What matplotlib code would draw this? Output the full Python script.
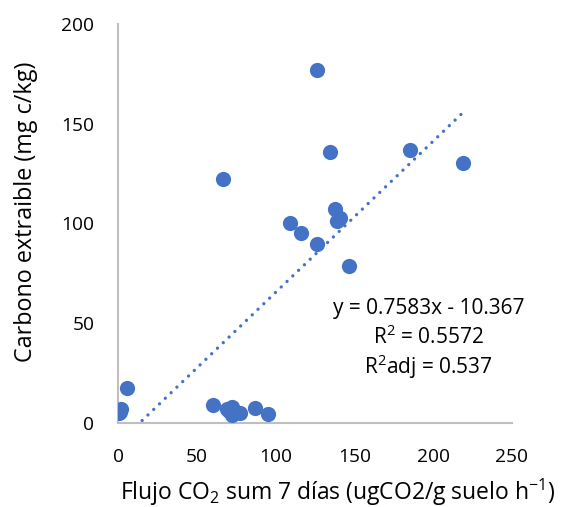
import matplotlib
matplotlib.use("Agg")
import matplotlib.pyplot as plt
import numpy as np

plt.rcParams['font.family'] = ['Open Sans', 'DejaVu Sans']
plt.rcParams['mathtext.default'] = 'regular'

flujo = [126.3, 134.6, 185.3, 219.1, 66.8, 137.7, 140.9, 139.2, 109.1, 115.9,
         126.1, 146.4, 5.9, 1.7, 0.6, 60.1, 68.9, 72.1, 72.1, 77.4, 86.9, 95.4,
         1.0, 70.5]
carbono = [177.1, 135.7, 137.0, 130.2, 122.5, 107.1, 102.6, 101.3, 100.4, 95.4,
           89.6, 78.9, 17.4, 6.9, 4.9, 9.0, 6.9, 7.9, 4.0, 4.9, 7.4, 4.4,
           5.5, 6.0]
slope = 0.7583
intercept = -10.367
eq_lines = ["y = 0.7583x - 10.367", "R$^{2}$ = 0.5572", "R$^{2}$adj = 0.537"]

W, H = 563, 507
fig = plt.figure(figsize=(W / 100, H / 100), dpi=100)
ax = fig.add_axes([118 / W, (H - 423) / H, 394 / W, 399 / H])

blue = '#4472C4'
ax.scatter(flujo, carbono, s=120, color=blue, zorder=3, linewidths=0)

xl = np.array([min(flujo), max(flujo)])
yl = slope * xl + intercept
ax.plot(xl, yl, color=blue, linestyle=(0, (0.01, 2.4)), linewidth=2.4,
        dash_capstyle='round', zorder=2)

ax.set_xlim(0, 250)
ax.set_ylim(0, 200)
ax.set_xticks([0, 50, 100, 150, 200, 250])
ax.set_yticks([0, 50, 100, 150, 200])
ax.tick_params(length=0, labelsize=13.8, pad=17, colors='black')
ax.tick_params(axis='x', pad=18)
for s in ['top', 'right']:
    ax.spines[s].set_visible(False)
for s in ['left', 'bottom']:
    ax.spines[s].set_color('#BFBFBF')
    ax.spines[s].set_linewidth(1.5)

fig.text(338 / W, 1 - 492 / H, "Flujo CO$_{2}$ sum 7 días (ugCO2/g suelo h$^{-1}$)",
         fontsize=16.5, ha='center', va='center')
fig.text(26 / W, 1 - 212 / H, "Carbono extraible (mg c/kg)",
         fontsize=16.8, ha='center', va='center', rotation=90)

for i, t in enumerate(eq_lines):
    ax.text(197, 57.5 - i * 14.6, t, fontsize=15, ha='center', va='center')

fig.savefig("out.png", dpi=100)
